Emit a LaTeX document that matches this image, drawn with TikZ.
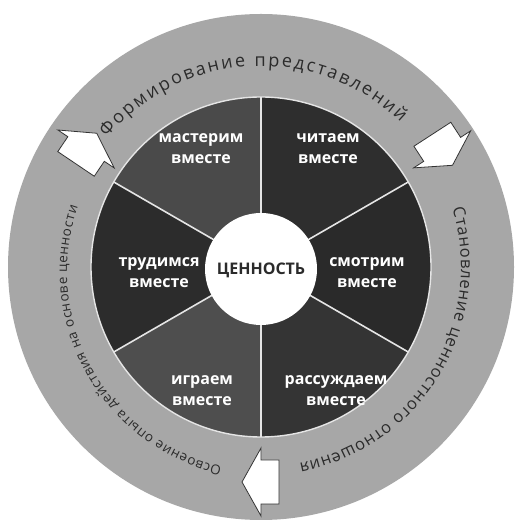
\documentclass[tikz,border=0pt]{standalone}
\usepackage{fontspec}
\setmainfont{Open Sans}
\usetikzlibrary{decorations.text,calc}
\definecolor{ringgray}{HTML}{A7A7A7}
\definecolor{textgray}{HTML}{2B2B2B}
\definecolor{secA}{HTML}{4A4A4A}
\definecolor{secB}{HTML}{2E2E2E}
\definecolor{secC}{HTML}{2A2A2A}
\definecolor{secD}{HTML}{343434}
\definecolor{secE}{HTML}{4E4E4E}
\definecolor{secF}{HTML}{2C2C2C}
\begin{document}
\begin{tikzpicture}[x=1pt,y=1pt,
  sectorlabel/.style={text=white, font=\bfseries\fontsize{16}{21}\selectfont, align=center},
  blockarrow/.style={fill=white, draw=black!80, line width=0.8pt, line join=miter},
  divider/.style={draw=white!90!black, line width=1.6pt},
  ringtext/.style={decorate, decoration={text along path, text align={fit to path}, text color=textgray}}
]
\useasboundingbox (0,0) rectangle (516,522);
\begin{scope}[shift={(261,255)}]
  % outer ring
  \fill[ringgray] (0,0) circle[radius=253];
  % sectors
  \fill[secA] (0,0) -- (90:170) arc[start angle=90, end angle=150, radius=170] -- cycle;
  \fill[secB] (0,0) -- (30:170) arc[start angle=30, end angle=90, radius=170] -- cycle;
  \fill[secC] (0,0) -- (-30:170) arc[start angle=-30, end angle=30, radius=170] -- cycle;
  \fill[secD] (0,0) -- (-90:170) arc[start angle=-90, end angle=-30, radius=170] -- cycle;
  \fill[secE] (0,0) -- (210:170) arc[start angle=210, end angle=270, radius=170] -- cycle;
  \fill[secF] (0,0) -- (150:170) arc[start angle=150, end angle=210, radius=170] -- cycle;
  \foreach \a in {30,90,150,210,270,330} \draw[divider] (0,0) -- (\a:170);
  \draw[divider, line width=1.4pt] (0,0) circle[radius=170];
  % centre
  \fill[white] (0,-2) circle[radius=56];
  \node[font=\bfseries\fontsize{16}{16}\selectfont, text=textgray] (value) at (0,-3) {ЦЕННОСТЬ};
  % sector labels
  \node[sectorlabel] (master) at (-60,118) {мастерим\\вместе};
  \node[sectorlabel] (read) at (67,118) {читаем\\вместе};
  \node[sectorlabel] (work) at (-102,-6) {трудимся\\вместе};
  \node[sectorlabel] (watch) at (106,-6) {смотрим\\вместе};
  \node[sectorlabel] (play) at (-59,-124) {играем\\вместе};
  \node[sectorlabel] (talk) at (75,-124) {рассуждаем\\вместе};
  % ring texts
  \path[ringtext, decoration={text={|\fontsize{18}{18}\selectfont|Формирование представлений}}]
    (140:201) arc[start angle=140, end angle=46, radius=201];
  \path[ringtext, decoration={text={|\fontsize{16.5}{16.5}\selectfont|Становление ценностного отношения}}]
    (17:200) arc[start angle=17, end angle=-79, radius=200];
  \path[ringtext, decoration={text={|\fontsize{13.5}{13.5}\selectfont|Освоение опыта действия на основе ценности}}]
    ($(6,-5)+(-103:200)$) arc[start angle=-103, end angle=-199, radius=200];
  % block arrows
  \foreach \t/\r in {33/216, 146/211, 270/215}
    \draw[blockarrow, shift={(\t:\r)}, rotate=\t-90]
      (-18,22) -- (0,22) -- (0,34) -- (19,0) -- (0,-34) -- (0,-22) -- (-18,-22) -- cycle;
\end{scope}
\end{tikzpicture}
\end{document}
